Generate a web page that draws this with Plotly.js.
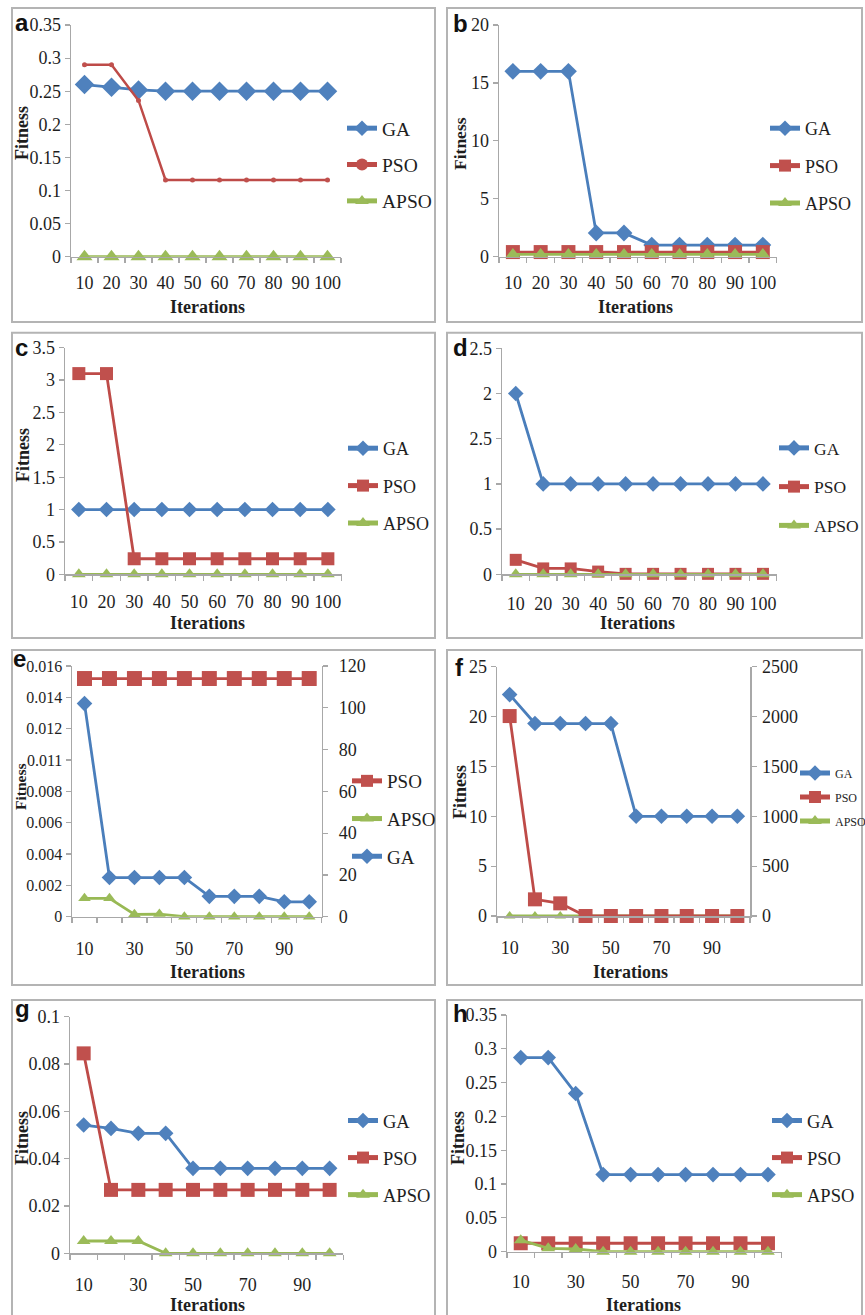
<!DOCTYPE html>
<html><head><meta charset="utf-8">
<script src="https://cdn.plot.ly/plotly-3.0.1.min.js"></script>
<style>html,body{margin:0;padding:0;background:#fff;}#chart{width:865px;height:1315px;}</style>
</head><body><div id="chart"></div>
<script>
// ---------------- DATA ----------------
const iterations = [10, 20, 30, 40, 50, 60, 70, 80, 90, 100];
const xLabelsAll = [10, 20, 30, 40, 50, 60, 70, 80, 90, 100];
const xLabelsOdd = [10, 30, 50, 70, 90];

// (a)
const aGA   = [0.26, 0.256, 0.252, 0.25, 0.25, 0.25, 0.25, 0.25, 0.25, 0.25];
const aPSO  = [0.29, 0.29, 0.236, 0.116, 0.116, 0.116, 0.116, 0.116, 0.116, 0.116];
const aAPSO = [0, 0, 0, 0, 0, 0, 0, 0, 0, 0];
// (b)
const bGA   = [16, 16, 16, 2.05, 2.05, 1, 1, 1, 1, 1];
const bPSO  = [0.4, 0.4, 0.4, 0.4, 0.4, 0.4, 0.4, 0.4, 0.4, 0.4];
const bAPSO = [0.2, 0.2, 0.2, 0.2, 0.2, 0.2, 0.2, 0.2, 0.2, 0.2];
// (c)
const cGA   = [1, 1, 1, 1, 1, 1, 1, 1, 1, 1];
const cPSO  = [3.1, 3.1, 0.24, 0.24, 0.24, 0.24, 0.24, 0.24, 0.24, 0.24];
const cAPSO = [0, 0, 0, 0, 0, 0, 0, 0, 0, 0];
// (d)
const dGA   = [2, 1, 1, 1, 1, 1, 1, 1, 1, 1];
const dPSO  = [0.16, 0.065, 0.065, 0.03, 0.005, 0.005, 0.005, 0.005, 0.005, 0.005];
const dAPSO = [0, 0, 0, 0, 0, 0, 0, 0, 0, 0];
const dYTickVals = [0, 0.5, 1, 1.5, 2, 2.5];
const dYTickText = ['0', '0.5', '1', '2.5', '2', '2.5'];
// (e)  PSO on secondary axis
const ePSO  = [114, 114, 114, 114, 114, 114, 114, 114, 114, 114];
const eAPSO = [0.00117, 0.00117, 0.00015, 0.00017, 0, 0, 0, 0, 0, 0];
const eGA   = [0.0136, 0.0025, 0.0025, 0.0025, 0.0025, 0.0013, 0.0013, 0.0013, 0.00095, 0.00095];
const eYTickVals = [0, 0.002, 0.004, 0.006, 0.008, 0.010, 0.012, 0.014, 0.016];
const eYTickText = ['0', '0.002', '0.004', '0.006', '0.008', '0.011', '0.012', '0.014', '0.016'];
// (f)  PSO on secondary axis
const fGA   = [22.2, 19.3, 19.3, 19.3, 19.3, 10, 10, 10, 10, 10];
const fPSO  = [2005, 167, 127, 0, 0, 0, 0, 0, 0, 0];
const fAPSO = [0, 0, 0, 0, 0, 0, 0, 0, 0, 0];
// (g)
const gGA   = [0.0542, 0.0528, 0.0507, 0.0507, 0.0359, 0.0359, 0.0359, 0.0359, 0.0359, 0.0359];
const gPSO  = [0.0845, 0.0268, 0.0268, 0.0268, 0.0268, 0.0268, 0.0268, 0.0268, 0.0268, 0.0268];
const gAPSO = [0.0052, 0.0052, 0.0052, 0, 0, 0, 0, 0, 0, 0];
// (h)
const hGA   = [0.287, 0.287, 0.234, 0.114, 0.114, 0.114, 0.114, 0.114, 0.114, 0.114];
const hPSO  = [0.0125, 0.0125, 0.0125, 0.0125, 0.0125, 0.0125, 0.0125, 0.0125, 0.0125, 0.0125];
const hAPSO = [0.017, 0.005, 0.004, 0, 0, 0, 0, 0, 0, 0];

// ---------------- STYLE / LAYOUT ----------------
const W = 865, H = 1315;
const PX = v => v / W, PY = v => 1 - v / H;
const AX = '#a8a8a8';
const TXT = '#1e1e1e';
const SERIF = 'Liberation Serif, Times New Roman, serif';
const SANS = 'Liberation Sans, Arial, sans-serif';
const STY = {
  GA:   {line: '#4a7ebb', marker: '#4f81bd', symbol: 'diamond'},
  PSO:  {line: '#be4b48', marker: '#c0504d', symbol: 'square'},
  APSO: {line: '#98b954', marker: '#9bbb59', symbol: 'triangle-up'}
};

const panels = [
  {letter:'a', box:[12,8,435,322], px:[71,341], py:[25,256.7], yr:[0,0.35], yt:{dtick:0.05}, xt:xLabelsAll,
   series:[{n:'GA',y:aGA,ms:15},{n:'PSO',y:aPSO,ms:5,sym:'circle',lw:2.5},{n:'APSO',y:aAPSO,ms:14}],
   leg:[342,165,19.5,8], fit:[22,133,18], it:[207,307], let:[13,23], xlab:9},
  {letter:'b', box:[447,8,862,322], px:[499,776.7], py:[25,256.7], yr:[0,20], yt:{dtick:5}, xt:xLabelsAll,
   series:[{n:'GA',y:bGA,ms:13},{n:'PSO',y:bPSO,ms:14},{n:'APSO',y:bAPSO,ms:13}],
   leg:[765,166,18,11], fit:[460,143,17.5], it:[635,307], let:[451,23.5], xlab:9},
  {letter:'c', box:[12,332.7,435,638], px:[65,341.7], py:[347.7,574.3], yr:[0,3.5], yt:{dtick:0.5}, xt:xLabelsAll,
   series:[{n:'GA',y:cGA,ms:12},{n:'PSO',y:cPSO,ms:13},{n:'APSO',y:cAPSO,ms:12}],
   leg:[343,486,18,11], fit:[23,455,18], it:[207,623], let:[13,347], xlab:11},
  {letter:'d', box:[447,332.7,862,638], px:[502,776.7], py:[348.3,574.3], yr:[0,2.5], yt:{vals:dYTickVals,text:dYTickText}, xt:xLabelsAll,
   series:[{n:'GA',y:dGA,ms:12},{n:'PSO',y:dPSO,ms:12},{n:'APSO',y:dAPSO,ms:12}],
   leg:[774,487,17.5,13], fit:null, it:[637,623], let:[451,347.5], xlab:13},
  {letter:'e', box:[12,650,435,985], px:[72,321.7], py:[666,916.7], yr:[0,0.016], yt:{vals:eYTickVals,text:eYTickText}, ytfs:16, xt:xLabelsOdd,
   right:{yr:[0,120], dtick:20, standoff:7},
   series:[{n:'PSO',y:ePSO,ms:15,r:true},{n:'APSO',y:eAPSO,ms:11},{n:'GA',y:eGA,ms:12}],
   leg:[347,819,19,10], fit:[20,787,15.5], it:[207,972], let:[11,658.5], xlab:15},
  {letter:'f', box:[447,650,862,985], px:[497,750], py:[666.7,916], yr:[0,25], yt:{dtick:5}, xt:xLabelsOdd,
   right:{yr:[0,2500], dtick:500, standoff:2},
   series:[{n:'GA',y:fGA,ms:12},{n:'PSO',y:fPSO,ms:14,r:true},{n:'APSO',y:fAPSO,ms:10}],
   leg:[795,797,12,5], fit:[460,792,18], it:[630,972], let:[453,667], xlab:15},
  {letter:'g', box:[12,1000,435,1325], px:[70,343.3], py:[1016.7,1253.3], yr:[0,0.1], yt:{dtick:0.02}, xt:xLabelsOdd,
   series:[{n:'GA',y:gGA,ms:12},{n:'PSO',y:gPSO,ms:14},{n:'APSO',y:gAPSO,ms:12}],
   leg:[343,1158,18.5,10], fit:[22,1138,18], it:[207,1305], let:[13,1008.5], xlab:15},
  {letter:'h', box:[447,1000,862,1325], px:[507,781.7], py:[1015,1251.7], yr:[0,0.35], yt:{dtick:0.05}, xt:xLabelsOdd,
   series:[{n:'GA',y:hGA,ms:12},{n:'PSO',y:hPSO,ms:14},{n:'APSO',y:hAPSO,ms:12}],
   leg:[767,1158,18.5,10], fit:[458,1138,18], it:[643,1305], let:[451,1013.5], xlab:13}
];

const boundaries = iterations.map(v => v - 5).concat([iterations[iterations.length - 1] + 5]);

const data = [];
const layout = {
  width: W, height: H, margin: {l:0, r:0, t:0, b:0, autoexpand: false},
  paper_bgcolor: '#fff', plot_bgcolor: 'rgba(0,0,0,0)',
  showlegend: true, shapes: [], annotations: [],
  font: {family: SERIF, color: TXT}
};

panels.forEach((p, i) => {
  const n = i + 1;
  const xk = n === 1 ? 'xaxis' : 'xaxis' + n;
  const yk = n === 1 ? 'yaxis' : 'yaxis' + n;
  const xr = n === 1 ? 'x' : 'x' + n;
  const yr = n === 1 ? 'y' : 'y' + n;
  const lk = n === 1 ? 'legend' : 'legend' + n;
  const xdom = [PX(p.px[0]), PX(p.px[1])];
  const ydom = [PY(p.py[1]), PY(p.py[0])];

  layout[xk] = {
    domain: xdom, anchor: yr, range: [5, 105], fixedrange: true, automargin: false,
    showline: true, linecolor: AX, linewidth: 1.5, mirror: false,
    tickmode: 'array', tickvals: p.xt, ticks: 'outside', ticklen: p.xlab, tickcolor: 'rgba(0,0,0,0)',
    minor: {tickmode: 'array', tickvals: boundaries, ticks: 'outside', ticklen: 5, tickcolor: AX, tickwidth: 1.2, showgrid: false},
    showgrid: false, zeroline: false,
    tickfont: {family: SERIF, size: 18, color: TXT}
  };
  const yax = {
    domain: ydom, anchor: xr, range: p.yr, fixedrange: true, automargin: false,
    showline: true, linecolor: AX, linewidth: 1.5,
    ticks: 'outside', ticklen: 5, tickcolor: AX, tickwidth: 1.2,
    showgrid: false, zeroline: false,
    tickfont: {family: SERIF, size: p.ytfs || 18, color: TXT}
  };
  if (p.yt.vals) { yax.tickmode = 'array'; yax.tickvals = p.yt.vals; yax.ticktext = p.yt.text; }
  else { yax.tickmode = 'linear'; yax.tick0 = 0; yax.dtick = p.yt.dtick; }
  layout[yk] = yax;

  let ry = null;
  if (p.right) {
    const rn = i === 4 ? 9 : 10;
    ry = 'y' + rn;
    layout['yaxis' + rn] = {
      overlaying: yr, side: 'right', anchor: xr, range: p.right.yr, fixedrange: true, automargin: false,
      showline: true, linecolor: AX, linewidth: 1.5,
      tickmode: 'linear', tick0: 0, dtick: p.right.dtick,
      ticks: 'outside', ticklen: 5, tickcolor: AX, tickwidth: 1.2, ticklabelstandoff: p.right.standoff,
      showgrid: false, zeroline: false,
      tickfont: {family: SERIF, size: 18, color: TXT}
    };
  }

  p.series.forEach(s => {
    const st = STY[s.n];
    data.push({
      type: 'scatter', mode: 'lines+markers', name: s.n,
      x: iterations, y: s.y, xaxis: xr, yaxis: s.r ? ry : yr,
      legend: lk, legendgroup: p.letter + s.n,
      line: {color: st.line, width: s.lw || 2.8},
      marker: {symbol: s.sym || st.symbol, size: s.ms, color: st.marker},
      cliponaxis: false, hoverinfo: 'skip'
    });
  });

  layout[lk] = {
    x: PX(p.leg[0]), y: PY(p.leg[1]), xanchor: 'left', yanchor: 'middle',
    xref: 'paper', yref: 'paper', orientation: 'v',
    bgcolor: 'rgba(0,0,0,0)', borderwidth: 0,
    font: {family: SERIF, size: p.leg[2], color: TXT},
    tracegroupgap: p.leg[3], itemwidth: 30, traceorder: 'grouped', itemsizing: 'constant'
  };

  layout.shapes.push({
    type: 'rect', xref: 'paper', yref: 'paper',
    x0: PX(p.box[0]), x1: PX(p.box[2]), y0: PY(p.box[3]), y1: PY(p.box[1]),
    line: {color: '#b4b4b4', width: 2}, fillcolor: 'rgba(0,0,0,0)', layer: 'below'
  });

  layout.annotations.push({
    text: '<b>' + p.letter + '</b>', xref: 'paper', yref: 'paper',
    x: PX(p.let[0]), y: PY(p.let[1]), xanchor: 'left', yanchor: 'middle', showarrow: false,
    font: {family: SANS, size: 24, color: '#111'}
  });
  if (p.fit) {
    layout.annotations.push({
      text: '<b>Fitness</b>', xref: 'paper', yref: 'paper', textangle: -90,
      x: PX(p.fit[0]), y: PY(p.fit[1]), xanchor: 'center', yanchor: 'middle', showarrow: false,
      font: {family: SERIF, size: p.fit[2], color: TXT}
    });
  }
  layout.annotations.push({
    text: '<b>Iterations</b>', xref: 'paper', yref: 'paper',
    x: PX(p.it[0]), y: PY(p.it[1]), xanchor: 'center', yanchor: 'middle', showarrow: false,
    font: {family: SERIF, size: 18, color: TXT}
  });
});

Plotly.newPlot('chart', data, layout, {staticPlot: true, displayModeBar: false});
</script>
</body></html>
